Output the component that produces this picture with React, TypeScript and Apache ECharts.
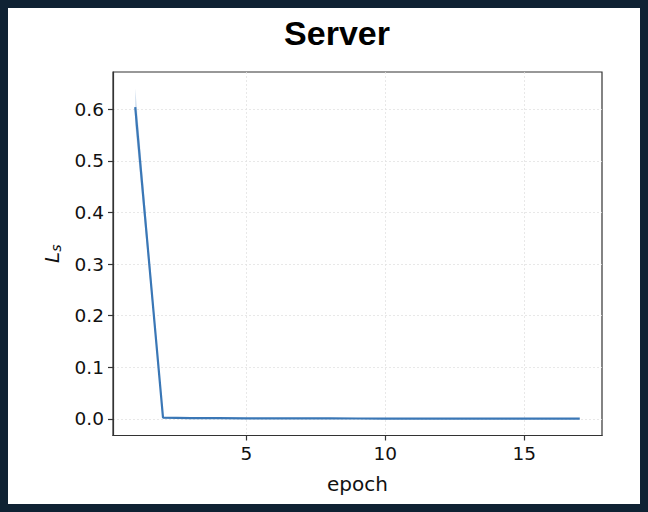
import React, { useEffect, useRef } from "react";
import * as echarts from "echarts";

const epochs = [1, 2, 3, 4, 5, 6, 7, 8, 9, 10, 11, 12, 13, 14, 15, 16, 17];
const lossMean = [0.604, 0.0025, 0.0018, 0.0015, 0.0013, 0.0012, 0.0011, 0.001, 0.0009, 0.0008, 0.0008, 0.0007, 0.0007, 0.0006, 0.0006, 0.0005, 0.0005];
const lossLower = [0.57, 0.0015, 0.0012, 0.001, 0.0009, 0.0008, 0.0008, 0.0007, 0.0006, 0.0006, 0.0005, 0.0005, 0.0005, 0.0004, 0.0004, 0.0004, 0.0004];
const lossUpper = [0.64, 0.0035, 0.0024, 0.002, 0.0017, 0.0016, 0.0014, 0.0013, 0.0012, 0.001, 0.001, 0.0009, 0.0009, 0.0008, 0.0008, 0.0006, 0.0006];
const xTicks = [5, 10, 15];
const yTicks = [0, 0.1, 0.2, 0.3, 0.4, 0.5, 0.6];

export default function App() {
  const ref = useRef<HTMLDivElement>(null);
  useEffect(() => {
    if (!ref.current) return;
    const chart = echarts.init(ref.current, null, { renderer: "svg" });
    const lineColor = "#3a77b6";
    const tickFont = { fontFamily: "DejaVu Sans", fontSize: 18.5, color: "#111111" };
    chart.setOption({
      animation: false,
      backgroundColor: "#ffffff",
      title: {
        text: "Server",
        left: 332,
        top: 11,
        textAlign: "center",
        textStyle: { fontFamily: "Liberation Sans", fontWeight: "bold", fontSize: 34, color: "#000" },
      },
      graphic: [
        {
          type: "rect",
          shape: { x: 4, y: 4, width: 640, height: 504 },
          style: { fill: "none", stroke: "#0f2233", lineWidth: 8 },
          silent: true,
        },
      ],
      grid: {
        left: 113,
        top: 72,
        right: 46,
        bottom: 76.5,
        show: true,
        borderColor: "#333333",
        borderWidth: 1.2,
        backgroundColor: "transparent",
      },
      xAxis: {
        type: "value",
        min: 0.2,
        max: 17.8,
        name: "epoch",
        nameLocation: "middle",
        nameGap: 38,
        nameTextStyle: { fontFamily: "DejaVu Sans", fontSize: 20, color: "#111111" },
        axisLine: { show: true, onZero: false, lineStyle: { color: "#333333", width: 1.2 } },
        axisTick: { show: true, length: 5, customValues: xTicks, lineStyle: { color: "#333333", width: 1.2 } },
        axisLabel: { customValues: xTicks, margin: 8, ...tickFont },
        splitLine: { show: true, lineStyle: { color: "#e2e2e2", type: [2, 2], width: 0.8 } },
      },
      yAxis: {
        type: "value",
        min: -0.032,
        max: 0.672,
        name: "{i|L}{s|s}",
        nameLocation: "middle",
        nameGap: 50,
        nameRotate: 90,
        nameTextStyle: {
          rich: {
            i: { fontFamily: "DejaVu Sans", fontStyle: "italic", fontSize: 20, color: "#111111" },
            s: { fontFamily: "DejaVu Sans", fontStyle: "italic", fontSize: 14, color: "#111111", verticalAlign: "bottom", padding: [9, 0, 0, 0] },
          },
        },
        axisLine: { show: true, onZero: false, lineStyle: { color: "#333333", width: 1.2 } },
        axisTick: { show: true, length: 5, customValues: yTicks, lineStyle: { color: "#333333", width: 1.2 } },
        axisLabel: { customValues: yTicks, margin: 9, formatter: (v: number) => v.toFixed(1), ...tickFont },
        splitLine: { show: true, lineStyle: { color: "#e2e2e2", type: [2, 2], width: 0.8 } },
      },
      series: [
        {
          type: "custom",
          silent: true,
          data: epochs.map((e, i) => [e, lossLower[i], lossUpper[i]]),
          renderItem: (params: any, api: any) => {
            if (params.dataIndex !== 0) return null;
            const upperPts = epochs.map((e, i) => api.coord([e, lossUpper[i]]));
            const lowerPts = epochs.map((e, i) => api.coord([e, lossLower[i]])).reverse();
            return {
              type: "polygon",
              shape: { points: upperPts.concat(lowerPts) },
              style: { fill: lineColor, opacity: 0.25 },
            };
          },
          z: 1,
        },
        {
          type: "line",
          data: epochs.map((e, i) => [e, lossMean[i]]),
          symbol: "none",
          lineStyle: { color: lineColor, width: 2.2 },
          z: 2,
        },
      ],
    });
    return () => chart.dispose();
  }, []);
  return <div ref={ref} style={{ position: "fixed", left: 0, top: 0, width: 648, height: 512 }} />;
}
